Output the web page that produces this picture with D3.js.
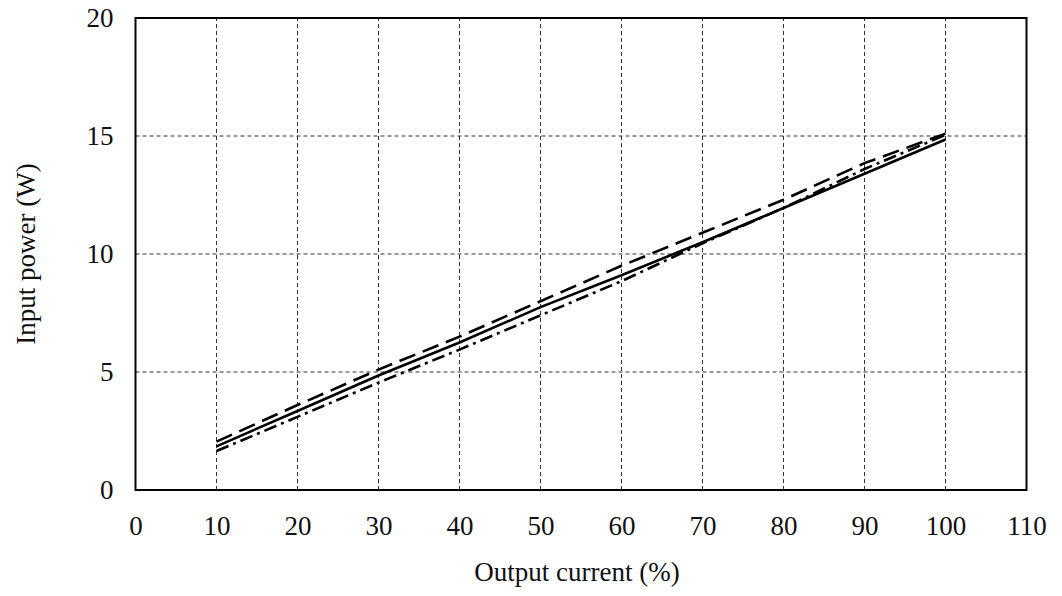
<!DOCTYPE html>
<html>
<head>
<meta charset="utf-8">
<script src="https://cdn.jsdelivr.net/npm/d3@7"></script>
<style>
  html, body { margin: 0; padding: 0; background: #fff; }
  svg { display: block; }
  text { font-family: "Liberation Serif", "Times New Roman", serif; fill: #111; }
</style>
</head>
<body>
<svg id="chart" width="1062" height="596"></svg>
<script>
// Output current (%) sample points
const current = [10, 20, 30, 40, 50, 60, 70, 80, 90, 100];
// Input power (W) for three operating conditions
const powerLongDash = [2.05, 3.6, 5.1, 6.5, 8.0, 9.5, 10.9, 12.3, 13.85, 15.1];
const powerSolid    = [1.85, 3.35, 4.85, 6.25, 7.75, 9.1, 10.5, 11.95, 13.4, 14.85];
const powerDashDot  = [1.65, 3.1, 4.55, 5.95, 7.4, 8.85, 10.45, 11.95, 13.6, 15.05];

const xTicks = [0, 10, 20, 30, 40, 50, 60, 70, 80, 90, 100, 110];
const yTicks = [0, 5, 10, 15, 20];

const W = 1062, H = 596;
const margin = { left: 135.5, right: W - 1026.5, top: 18, bottom: H - 490 };
const fontSize = 27;
const svg = d3.select("#chart");

const x = d3.scaleLinear().domain([0, 110]).range([margin.left, W - margin.right]);
const y = d3.scaleLinear().domain([0, 20]).range([H - margin.bottom, margin.top]);

// grid
const grid = svg.append("g").attr("stroke", "#333").attr("stroke-width", 1)
  .attr("stroke-dasharray", "4,3").attr("fill", "none");
grid.selectAll("line.v").data(xTicks.slice(1, -1)).join("line")
  .attr("x1", d => x(d)).attr("x2", d => x(d))
  .attr("y1", y(0)).attr("y2", y(20));
grid.selectAll("line.h").data(yTicks.slice(1, -1)).join("line")
  .attr("x1", x(0)).attr("x2", x(110))
  .attr("y1", d => y(d)).attr("y2", d => y(d));

// frame
svg.append("rect")
  .attr("x", x(0)).attr("y", y(20))
  .attr("width", x(110) - x(0)).attr("height", y(0) - y(20))
  .attr("fill", "none").attr("stroke", "#000").attr("stroke-width", 2);

// axes (labels only)
const xAxis = svg.append("g").attr("transform", `translate(0,${y(0)})`)
  .call(d3.axisBottom(x).tickValues(xTicks).tickSize(0).tickPadding(26));
xAxis.select(".domain").remove();
xAxis.selectAll("text").style("font-size", fontSize + "px").style("font-family", "Liberation Serif");

const yAxis = svg.append("g").attr("transform", `translate(${x(0)},0)`)
  .call(d3.axisLeft(y).tickValues(yTicks).tickSize(0).tickPadding(22));
yAxis.select(".domain").remove();
yAxis.selectAll("text").style("font-size", fontSize + "px").style("font-family", "Liberation Serif");

// axis titles
svg.append("text").attr("x", (x(0) + x(110)) / 2 - 4).attr("y", 581)
  .attr("text-anchor", "middle").style("font-size", fontSize + "px")
  .text("Output current (%)");
svg.append("text")
  .attr("transform", `translate(35,${(y(0) + y(20)) / 2}) rotate(-90)`)
  .attr("text-anchor", "middle").style("font-size", fontSize + "px")
  .text("Input power (W)");

// series
const line = d3.line().x(d => x(d[0])).y(d => y(d[1]));
const series = [
  { values: powerLongDash, dash: "17,8" },
  { values: powerSolid, dash: null },
  { values: powerDashDot, dash: "13,5,3,5" }
];
svg.append("g").selectAll("path").data(series).join("path")
  .attr("d", s => line(current.map((c, i) => [c, s.values[i]])))
  .attr("fill", "none").attr("stroke", "#000").attr("stroke-width", 2.6)
  .attr("stroke-dasharray", s => s.dash);
</script>
</body>
</html>
